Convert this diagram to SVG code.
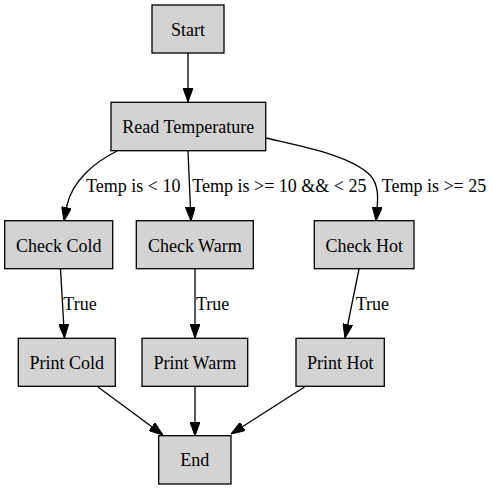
<svg xmlns="http://www.w3.org/2000/svg" width="493" height="489" viewBox="0 0 493 489">
<defs>
<style>
.node rect{fill:#d3d3d3;stroke:#000;stroke-width:1.3}
text{font-family:"Liberation Serif","Times New Roman",serif;font-size:18px;fill:#000}
.node text{text-anchor:middle}
.edge{fill:none;stroke:#000;stroke-width:1.3}
</style>
<marker id="ah" viewBox="0 0 14 10" refX="14" refY="5" markerWidth="14" markerHeight="10" markerUnits="userSpaceOnUse" orient="auto">
<path d="M0,0 L14,5 L0,10 Z" fill="#000" stroke="#000" stroke-width="1"/>
</marker>
</defs>
<rect width="493" height="489" fill="#fff"/>
<g id="connectors">
<path class="edge" d="M188,53 L188,102" marker-end="url(#ah)"/>
<path class="edge" d="M117,151 C95,162 73,180 67,205 L64,221" marker-end="url(#ah)"/>
<path class="edge" d="M188,151 L191,221" marker-end="url(#ah)"/>
<path class="edge" d="M266,138 C300,146 350,155 370,175 C380,186 378,200 376,221" marker-end="url(#ah)"/>
<path class="edge" d="M60.5,269 L64.5,338" marker-end="url(#ah)"/>
<path class="edge" d="M195,269 L195,338" marker-end="url(#ah)"/>
<path class="edge" d="M359,269 L345,338" marker-end="url(#ah)"/>
<path class="edge" d="M98,387 L163,435" marker-end="url(#ah)"/>
<path class="edge" d="M195,387 L195,436" marker-end="url(#ah)"/>
<path class="edge" d="M304.5,387 L231,434" marker-end="url(#ah)"/>
<text x="86" y="192">Temp is &lt; 10</text>
<text x="192.3" y="192">Temp is &gt;= 10 &amp;&amp; &lt; 25</text>
<text x="381.7" y="192">Temp is &gt;= 25</text>
<text x="63.3" y="310">True</text>
<text x="196" y="310">True</text>
<text x="355.7" y="310">True</text>
</g>
<g id="start" class="node"><rect x="152" y="5" width="72" height="48"/><text x="188" y="36">Start</text></g>
<g id="read" class="node"><rect x="111" y="102.3" width="154.7" height="48.4"/><text x="188.3" y="133.3">Read Temperature</text></g>
<g id="checkCold" class="node"><rect x="4.7" y="220.7" width="108" height="48"/><text x="58.7" y="251.7">Check Cold</text></g>
<g id="checkWarm" class="node"><rect x="136.3" y="220.7" width="117" height="48"/><text x="194.8" y="251.7">Check Warm</text></g>
<g id="checkHot" class="node"><rect x="314.3" y="220.7" width="99.7" height="48"/><text x="364.2" y="251.7">Check Hot</text></g>
<g id="printCold" class="node"><rect x="18.3" y="338.3" width="97" height="48"/><text x="66.8" y="369.3">Print Cold</text></g>
<g id="printWarm" class="node"><rect x="142" y="338.3" width="105.7" height="48"/><text x="194.8" y="369.3">Print Warm</text></g>
<g id="printHot" class="node"><rect x="296" y="338.3" width="88.3" height="48"/><text x="340.2" y="369.3">Print Hot</text></g>
<g id="end" class="node"><rect x="158.7" y="435.7" width="72.3" height="48.3"/><text x="194.8" y="466.3">End</text></g>
</svg>
